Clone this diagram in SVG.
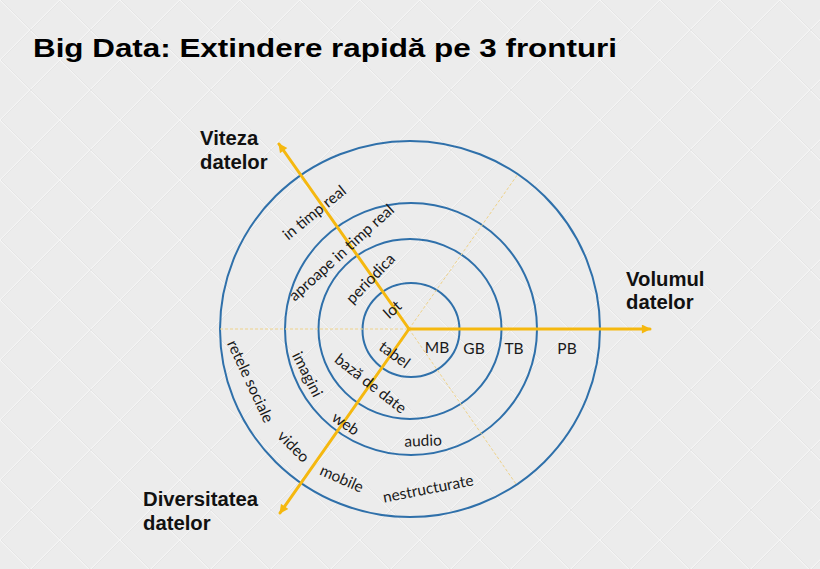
<svg xmlns="http://www.w3.org/2000/svg" width="820" height="569" viewBox="0 0 820 569">
<defs>
<pattern id="bg" width="60" height="60" patternUnits="userSpaceOnUse">
<rect width="60" height="60" fill="#ececec"/>
<path d="M0 0 L60 60 M60 0 L0 60" stroke="#f6f6f6" stroke-width="1.2" fill="none"/>
<path d="M1 0 L61 60 M61 0 L1 60" stroke="#e2e2e2" stroke-width="0.8" fill="none"/>
</pattern>
<marker id="arr" viewBox="0 0 10 10" refX="9" refY="5" markerWidth="10" markerHeight="9" markerUnits="userSpaceOnUse" orient="auto">
<path d="M0 0 L10 5 L0 10 Z" fill="#f5b80f"/>
</marker>
<style>
.title{font-family:"Liberation Sans",Arial,sans-serif;font-weight:bold;font-size:26px;fill:#000}
.ax{font-family:"Liberation Sans",Arial,sans-serif;font-weight:bold;font-size:20.3px;fill:#111}
.lb{font-family:Lato,"Open Sans",sans-serif;font-size:15.5px;fill:#1a1a1a;text-anchor:middle;dominant-baseline:central}
.ring{fill:none;stroke:#2f70aa;stroke-width:2}
.dash{stroke:#eed28a;stroke-width:1;stroke-dasharray:3 2;fill:none}
.axis{stroke:#f5b80f;stroke-width:3;fill:none;stroke-linecap:round}
</style>
</defs>
<rect width="820" height="569" fill="url(#bg)"/>
<text class="title" x="33" y="57" textLength="584" lengthAdjust="spacingAndGlyphs">Big Data: Extindere rapidă pe 3 fronturi</text>

<g id="rings">
<ellipse class="ring" cx="410" cy="329" rx="190" ry="188"/>
<ellipse class="ring" cx="411" cy="329" rx="126" ry="126"/>
<ellipse class="ring" cx="410" cy="329" rx="91.5" ry="90"/>
<ellipse class="ring" cx="411" cy="330" rx="48.5" ry="47"/>
</g>

<g id="connectors">
<line class="dash" x1="220" y1="329" x2="409" y2="329"/>
<line class="dash" x1="409" y1="329" x2="518" y2="174"/>
<line class="dash" x1="409" y1="329" x2="516" y2="484"/>
<line class="axis" x1="409" y1="329" x2="279" y2="144" marker-end="url(#arr)"/>
<line class="axis" x1="409" y1="329" x2="280" y2="513" marker-end="url(#arr)"/>
<line class="axis" x1="409" y1="329" x2="650" y2="329" marker-end="url(#arr)"/>
</g>

<g id="viteza">
<text class="ax" x="200" y="145">Viteza</text>
<text class="ax" x="200" y="169">datelor</text>
</g>
<g id="volumul">
<text class="ax" x="626" y="286">Volumul</text>
<text class="ax" x="626" y="309">datelor</text>
</g>
<g id="diversitatea">
<text class="ax" x="143" y="506">Diversitatea</text>
<text class="ax" x="143" y="530">datelor</text>
</g>

<g id="volume-labels">
<text class="lb" x="437" y="347">MB</text>
<text class="lb" x="474" y="348">GB</text>
<text class="lb" x="514" y="348">TB</text>
<text class="lb" x="567" y="348">PB</text>
</g>

<g id="speed-labels">
<text class="lb" transform="translate(314,212) rotate(-39)">in timp real</text>
<text class="lb" transform="translate(341,252) rotate(-42)">aproape in timp real</text>
<text class="lb" transform="translate(370,278) rotate(-46)">periodica</text>
<text class="lb" transform="translate(392,309) rotate(-42)">lot</text>
</g>

<g id="variety-labels">
<text class="lb" transform="translate(395,354) rotate(36)">tabel</text>
<text class="lb" transform="translate(371,383) rotate(38)">bază de date</text>
<text class="lb" transform="translate(308,374) rotate(63)">imagini</text>
<text class="lb" transform="translate(251,381) rotate(65)">retele sociale</text>
<text class="lb" transform="translate(346,423) rotate(34)">web</text>
<text class="lb" transform="translate(294,446) rotate(45)">video</text>
<text class="lb" transform="translate(423,440) rotate(-2)">audio</text>
<text class="lb" transform="translate(342,478) rotate(24)">mobile</text>
<text class="lb" transform="translate(428,488) rotate(-11)">nestructurate</text>
</g>
</svg>
